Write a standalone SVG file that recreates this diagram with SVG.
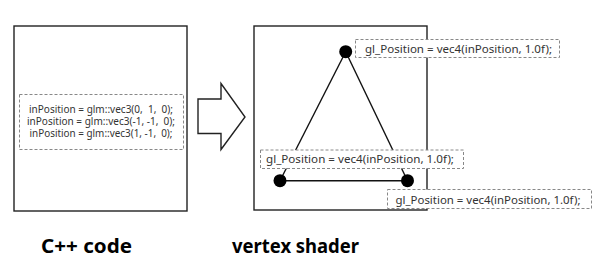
<svg xmlns="http://www.w3.org/2000/svg" width="600" height="271" viewBox="0 0 600 271">
<style>
.frame{fill:#fff;stroke:#222;stroke-width:1.4}
.lbl{fill:#fff;stroke:#888;stroke-width:1;stroke-dasharray:3 2}
.code{font-family:"Noto Sans","Liberation Sans",sans-serif;font-size:10.5px;fill:#333;white-space:pre}
.cap{font-family:"Noto Sans","Liberation Sans",sans-serif;font-size:20px;font-weight:bold;fill:#000}
.edge{stroke:#111;stroke-width:1.4;fill:none}
.vtx{fill:#000}
</style>
<rect width="600" height="271" fill="#fff"/>
<g id="cpp-box">
<rect class="frame" x="14" y="26" width="173" height="185"/>
<rect class="lbl" x="19.5" y="94.5" width="164" height="55"/>
<text class="code" x="101" y="113" text-anchor="middle" textLength="144" lengthAdjust="spacingAndGlyphs" xml:space="preserve">inPosition = glm::vec3(0,  1,  0);</text>
<text class="code" x="101" y="125" text-anchor="middle" textLength="148" lengthAdjust="spacingAndGlyphs" xml:space="preserve">inPosition = glm::vec3(-1, -1,  0);</text>
<text class="code" x="101" y="136.5" text-anchor="middle" textLength="143" lengthAdjust="spacingAndGlyphs" xml:space="preserve">inPosition = glm::vec3(1, -1,  0);</text>
</g>
<g id="arrow">
<polygon class="frame" points="198,99 221,99 221,83.5 245,117 221,149.5 221,133.5 198,133.5"/>
</g>
<g id="shader-box">
<rect class="frame" x="254" y="26" width="173" height="184"/>
</g>
<g id="connectors">
<line class="edge" x1="345.7" y1="51.7" x2="280" y2="180.7"/>
<line class="edge" x1="345.7" y1="51.7" x2="407.5" y2="180.7"/>
<line class="edge" x1="280" y1="180.7" x2="407.5" y2="180.7"/>
</g>
<g id="vertex-top">
<circle class="vtx" cx="345.7" cy="51.7" r="6.5"/>
<rect class="lbl" x="355.5" y="39.5" width="204" height="18"/>
<text class="code" x="365" y="52.5" textLength="187" lengthAdjust="spacingAndGlyphs">gl_Position = vec4(inPosition, 1.0f);</text>
</g>
<g id="vertex-left">
<rect class="lbl" x="260.5" y="150" width="203" height="18.5"/>
<text class="code" x="266" y="163.3" textLength="188" lengthAdjust="spacingAndGlyphs">gl_Position = vec4(inPosition, 1.0f);</text>
<circle class="vtx" cx="280" cy="180.7" r="6.5"/>
</g>
<g id="vertex-right">
<circle class="vtx" cx="407.5" cy="180.7" r="6.5"/>
<rect class="lbl" x="387.5" y="189.5" width="204" height="19"/>
<text class="code" x="395.5" y="203.5" textLength="185" lengthAdjust="spacingAndGlyphs">gl_Position = vec4(inPosition, 1.0f);</text>
</g>
<g id="captions">
<text class="cap" x="41" y="253" textLength="91" lengthAdjust="spacingAndGlyphs">C++ code</text>
<text class="cap" x="232" y="253" textLength="127" lengthAdjust="spacingAndGlyphs">vertex shader</text>
</g>
</svg>
